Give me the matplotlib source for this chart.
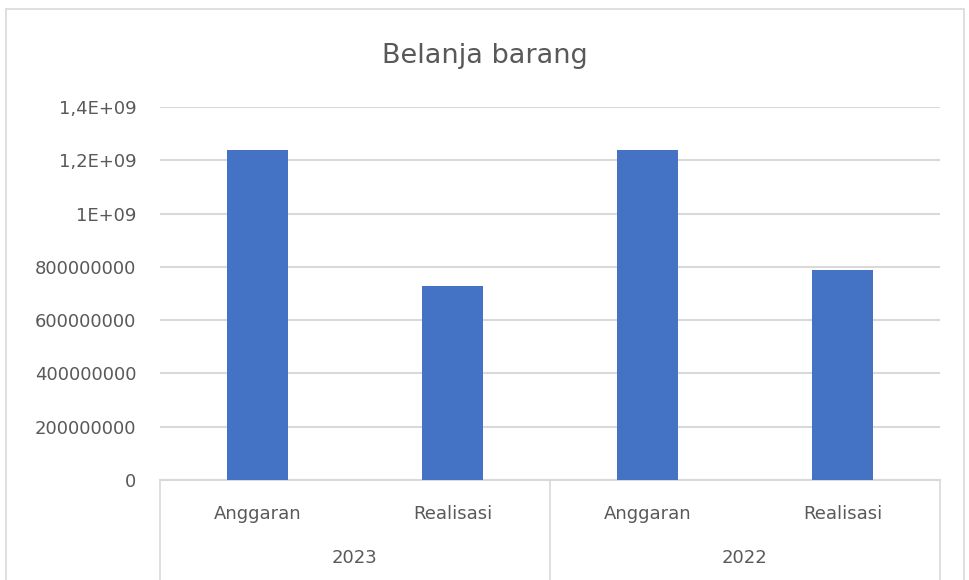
import matplotlib.pyplot as plt
import matplotlib.transforms as mtransforms
from matplotlib.patches import Rectangle

# data
years = ['2023', '2022']
items = ['Anggaran', 'Realisasi', 'Anggaran', 'Realisasi']
values = [1.24e9, 7.28e8, 1.24e9, 7.90e8]
yticks = [0, 2e8, 4e8, 6e8, 8e8, 1e9, 1.2e9, 1.4e9]
ytick_labels = ['0', '200000000', '400000000', '600000000', '800000000',
                '1E+09', '1,2E+09', '1,4E+09']

plt.rcParams['font.family'] = ['DejaVu Sans']
text_col = '#595959'
grid_col = '#d9d9d9'

W, H = 970, 580
fig = plt.figure(figsize=(W / 100, H / 100), dpi=100)

# outer chart border
fig.patches.append(Rectangle((6 / W, -0.05), (964 - 6) / W, (H - 9) / H + 0.05,
                             transform=fig.transFigure, fill=False,
                             edgecolor='#d9d9d9', linewidth=1.2))

left, right = 160 / W, 940 / W
bottom, top = (H - 480) / H, (H - 107) / H
ax = fig.add_axes([left, bottom, right - left, top - bottom])

x = list(range(len(values)))
ax.bar(x, values, width=0.31, color='#4472C4', zorder=3)

ax.set_xlim(-0.5, len(values) - 0.5)
ax.set_ylim(0, 1.4e9)
ax.set_yticks(yticks)
ax.set_yticklabels(ytick_labels, color=text_col, fontsize=13)
ax.tick_params(axis='y', length=0, pad=17)
ax.tick_params(axis='x', length=0, labelbottom=False)
ax.grid(axis='y', color=grid_col, linewidth=1.5, zorder=0)
for s in ax.spines.values():
    s.set_visible(False)

# category axis with two levels
trans = mtransforms.blended_transform_factory(ax.transData, ax.transAxes)
ax.plot([-0.5, 3.5], [0, 0], transform=trans, color=grid_col, lw=1.5, clip_on=False)
for sx in [-0.5, 1.5, 3.5]:
    ax.plot([sx, sx], [0, -0.27], transform=trans, color=grid_col, lw=1.2, clip_on=False)
for i, lab in enumerate(items):
    ax.text(i, -0.09, lab, transform=trans, ha='center', va='center',
            color=text_col, fontsize=13)
for j, yr in enumerate(years):
    ax.text(2 * j + 0.5, -0.21, yr, transform=trans, ha='center', va='center',
            color=text_col, fontsize=13)

fig.text(0.5, (H - 56) / H, 'Belanja barang', ha='center', va='center',
         color=text_col, fontsize=19.5)

fig.savefig('out.png', dpi=100)
